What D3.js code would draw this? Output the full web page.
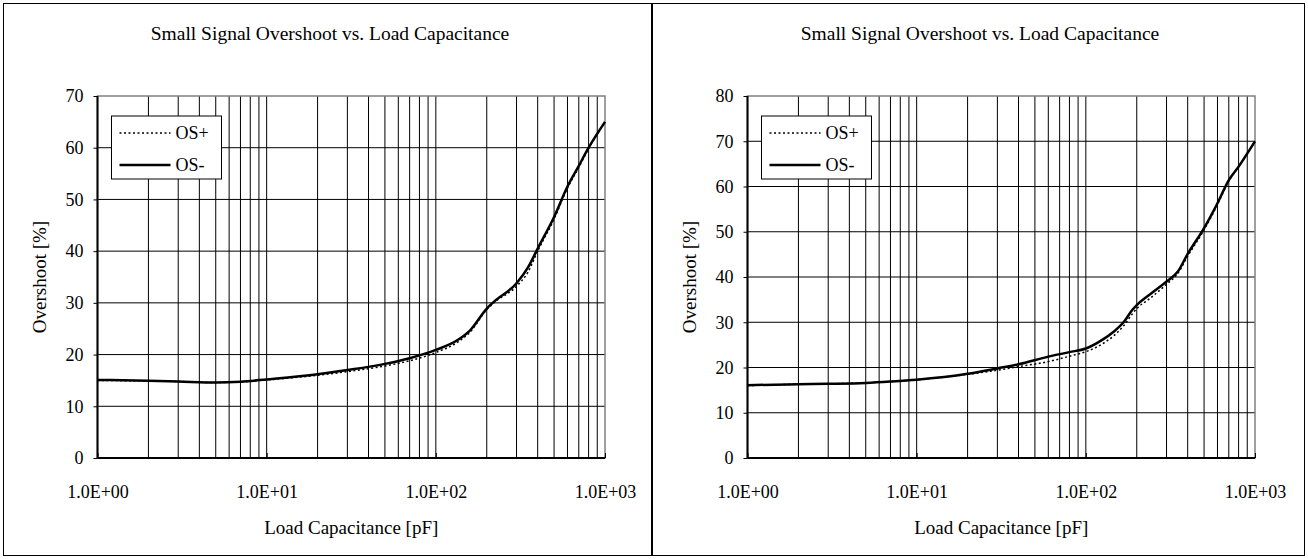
<!DOCTYPE html>
<html>
<head>
<meta charset="utf-8">
<script src="https://cdn.jsdelivr.net/npm/d3@7"></script>
<style>
  body { margin: 0; background: #fff; }
  svg { display: block; }
  svg text { font-family: "Liberation Serif", "Times New Roman", serif; fill: #000; }
  .grid line { stroke: #000; stroke-width: 1; }
</style>
</head>
<body>
<svg id="chart" width="1308" height="559"></svg>
<script>
const titleText = "Small Signal Overshoot vs. Load Capacitance";
const xTitle = "Load Capacitance [pF]";
const yTitle = "Overshoot [%]";
const seriesNames = ["OS+", "OS-"];
const xTickValues = [1, 10, 100, 1000];

// left chart
const leftCap = [1, 2, 3, 5, 7, 10, 20, 30, 50, 70, 100, 136, 160, 200, 220, 300, 350, 400, 500, 600, 700, 800, 1000];
const leftOsPlus = [15.0, 14.9, 14.8, 14.6, 14.7, 15.1, 16.0, 16.7, 17.8, 18.8, 20.4, 22.5, 24.4, 28.7, 30.0, 33.2, 35.9, 40.0, 46.2, 52.2, 56.2, 59.8, 65.0];
const leftOsMinus = [15.1, 14.95, 14.8, 14.6, 14.75, 15.2, 16.2, 17.0, 18.2, 19.3, 20.9, 22.9, 24.75, 28.9, 30.2, 33.8, 36.8, 40.5, 46.6, 52.5, 56.5, 60.0, 65.0];
const leftYMax = 70;

// right chart
const rightCap = [1, 2, 3, 5, 7, 10, 20, 30, 40, 60, 80, 100, 125, 146, 168, 188, 200, 240, 300, 350, 400, 500, 600, 700, 800, 1000];
const rightOsPlus = [16.0, 16.3, 16.4, 16.6, 16.9, 17.3, 18.5, 19.4, 20.2, 21.3, 22.5, 23.5, 25.2, 27.0, 29.3, 31.8, 33.0, 35.3, 38.4, 40.8, 44.6, 50.4, 56.0, 61.2, 64.4, 70.0];
const rightOsMinus = [16.1, 16.3, 16.4, 16.6, 16.9, 17.3, 18.6, 19.8, 20.7, 22.4, 23.4, 24.2, 26.1, 27.9, 30.1, 32.7, 33.8, 36.2, 39.0, 41.2, 45.1, 50.8, 56.3, 61.4, 64.4, 70.0];
const rightYMax = 80;

const svg = d3.select("#chart");
const plot = { left: 97.5, top: 96, width: 507.5, height: 362 };
const serif = "Liberation Serif, Times New Roman, serif";

// outer frames
svg.append("rect").attr("x", 3.5).attr("y", 3.5).attr("width", 648).attr("height", 552)
  .attr("fill", "none").attr("stroke", "#000");
svg.append("rect").attr("x", 652.5).attr("y", 3.5).attr("width", 652).attr("height", 552)
  .attr("fill", "none").attr("stroke", "#000");

function renderPanel(offsetX, cap, osPlus, osMinus, yMax) {
  const g = svg.append("g").attr("transform", `translate(${offsetX},0)`);

  g.append("text")
    .attr("x", 330).attr("y", 40)
    .attr("text-anchor", "middle")
    .attr("font-family", serif)
    .attr("font-size", 19.5)
    .text(titleText);

  const x = d3.scaleLog().domain([1, 1000]).range([plot.left, plot.left + plot.width]);
  const y = d3.scaleLinear().domain([0, yMax]).range([plot.top + plot.height, plot.top]);

  // minor + major vertical grid
  const xGrid = [];
  for (let p = 0; p < 3; p++) {
    for (let m = 1; m <= 9; m++) xGrid.push(m * Math.pow(10, p));
  }

  const grid = g.append("g").attr("class", "grid");
  grid.selectAll(".vx")
    .data(xGrid.filter((d) => d > 1))
    .join("line")
    .attr("x1", (d) => x(d)).attr("x2", (d) => x(d))
    .attr("y1", plot.top).attr("y2", plot.top + plot.height);
  grid.selectAll(".hy")
    .data(d3.range(10, yMax, 10))
    .join("line")
    .attr("x1", plot.left).attr("x2", plot.left + plot.width)
    .attr("y1", (d) => y(d)).attr("y2", (d) => y(d));

  // plot border (top/right gray)
  g.append("rect")
    .attr("x", plot.left).attr("y", plot.top)
    .attr("width", plot.width).attr("height", plot.height)
    .attr("fill", "none").attr("stroke", "#808080").attr("stroke-width", 1.5);

  // axes
  const yAxis = g.append("g")
    .attr("transform", `translate(${plot.left},0)`)
    .call(d3.axisLeft(y).tickValues(d3.range(0, yMax + 1, 10)).tickSize(4).tickPadding(10).tickFormat(d3.format("d")));
  yAxis.select(".domain").attr("stroke", "#000").attr("stroke-width", 2).attr("d", `M0,${plot.top}V${plot.top + plot.height}`);
  yAxis.selectAll(".tick line").attr("stroke", "#000");
  yAxis.selectAll("text").attr("font-size", 18).attr("font-family", serif).attr("fill", "#000");

  const xAxis = g.append("g")
    .attr("transform", `translate(0,${plot.top + plot.height})`)
    .call(d3.axisBottom(x).tickValues(xTickValues).tickSize(-5).tickPadding(27).tickFormat((d) => d.toExponential(1).replace(/e([+-])(\d)$/, "E$10$2").toUpperCase()));
  xAxis.select(".domain").attr("stroke", "#000").attr("stroke-width", 2).attr("d", `M${plot.left},0H${plot.left + plot.width}`);
  xAxis.selectAll(".tick line").attr("stroke", "#000");
  xAxis.selectAll("text").attr("font-size", 18).attr("font-family", serif).attr("fill", "#000");

  g.append("text")
    .attr("x", plot.left + plot.width / 2).attr("y", 534)
    .attr("text-anchor", "middle")
    .attr("font-family", serif)
    .attr("font-size", 19)
    .text(xTitle);

  g.append("text")
    .attr("transform", `translate(46,${plot.top + plot.height / 2}) rotate(-90)`)
    .attr("text-anchor", "middle")
    .attr("font-family", serif)
    .attr("font-size", 19)
    .text(yTitle);

  const line = d3.line()
    .x((d) => x(d[0]))
    .y((d) => y(d[1]))
    .curve(d3.curveMonotoneX);

  const styles = [
    { width: 1.5, dash: "2,2.5" },
    { width: 2.5, dash: null },
  ];
  [osPlus, osMinus].forEach((vals, i) => {
    g.append("path")
      .datum(cap.map((c, j) => [c, vals[j]]))
      .attr("fill", "none")
      .attr("stroke", "#000")
      .attr("stroke-width", styles[i].width)
      .attr("stroke-dasharray", styles[i].dash)
      .attr("stroke-linejoin", "round")
      .attr("d", line);
  });

  // legend
  const lg = g.append("g").attr("transform", `translate(${plot.left + 14},116)`);
  lg.append("rect")
    .attr("x", 0).attr("y", 0)
    .attr("width", 110).attr("height", 63)
    .attr("fill", "#fff").attr("stroke", "#000");
  seriesNames.forEach((name, i) => {
    const ly = 17 + i * 32;
    lg.append("line")
      .attr("x1", 8).attr("x2", 59)
      .attr("y1", ly).attr("y2", ly)
      .attr("stroke", "#000")
      .attr("stroke-width", styles[i].width)
      .attr("stroke-dasharray", styles[i].dash);
    lg.append("text")
      .attr("x", 64).attr("y", ly)
      .attr("dy", "0.35em")
      .attr("font-family", serif)
      .attr("font-size", 18)
      .text(name);
  });
}

renderPanel(0, leftCap, leftOsPlus, leftOsMinus, leftYMax);
renderPanel(650, rightCap, rightOsPlus, rightOsMinus, rightYMax);
</script>
</body>
</html>
